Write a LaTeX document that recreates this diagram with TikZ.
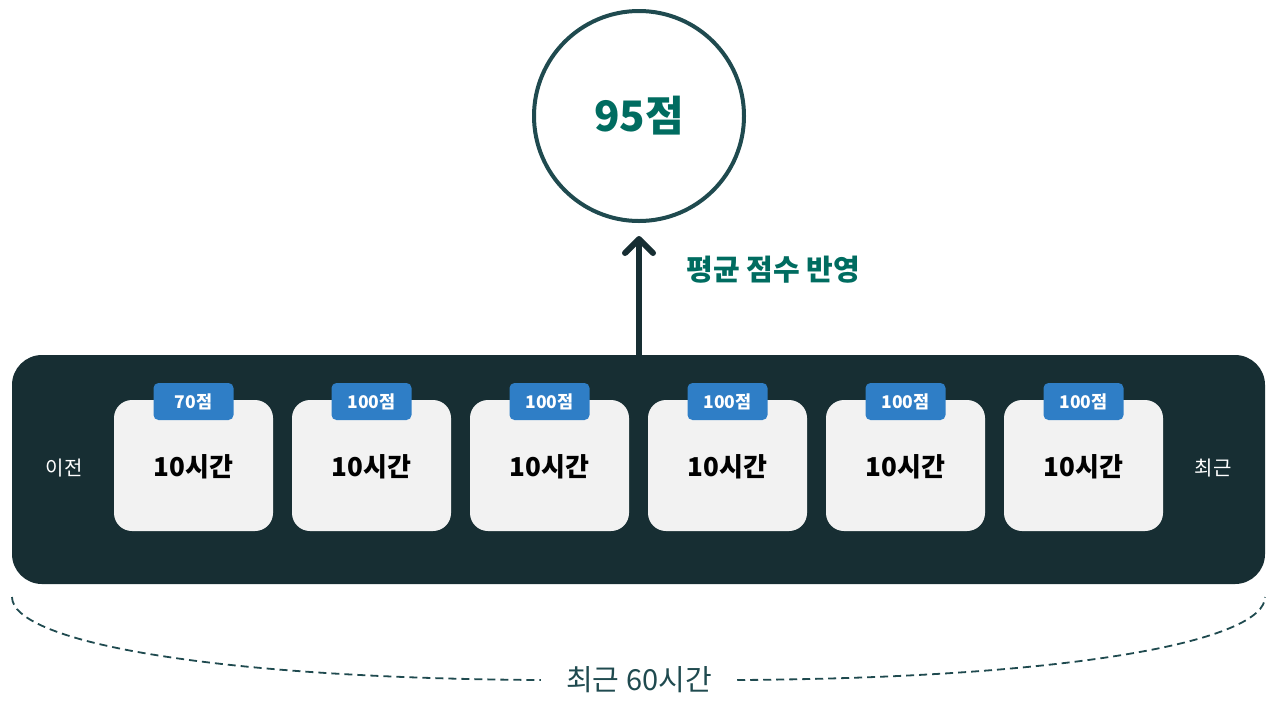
\documentclass[tikz,border=0pt]{standalone}
\usepackage{fontspec}
\setmainfont{Noto Sans CJK KR}
\usetikzlibrary{arrows.meta,calc}
\definecolor{panelc}{RGB}{23,46,51}
\definecolor{ringc}{RGB}{31,74,79}
\definecolor{tealc}{RGB}{0,108,96}
\definecolor{badgec}{RGB}{47,126,198}
\definecolor{boxc}{RGB}{242,242,242}
\tikzset{
  hourbox/.style={fill=boxc, rounded corners=18pt, minimum width=159pt, minimum height=131pt, inner sep=0pt},
  hourtext/.style={font=\fontsize{26}{30}\selectfont\bfseries, text=black},
  scorebadge/.style={fill=badgec, rounded corners=5pt, minimum width=80pt, minimum height=37pt, inner sep=0pt, text=white, font=\fontsize{17.5}{20}\selectfont\bfseries},
  sidetext/.style={text=white, font=\fontsize{20}{24}\selectfont},
  bracedash/.style={draw=ringc, line width=1.8pt, dash pattern=on 8pt off 5pt}
}
\begin{document}
\begin{tikzpicture}[x=1pt,y=-1pt]
\useasboundingbox (0,0) rectangle (1276,705);
% circle
\node[circle, draw=ringc, line width=4pt, fill=white, minimum size=210pt, inner sep=0pt,
  text=tealc, font=\fontsize{42}{48}\selectfont\bfseries] (score) at (639,116) {95점};
% panel
\node[fill=panelc, rounded corners=30pt, minimum width=1253pt, minimum height=229pt, inner sep=0pt] (panel) at (638.5,469.5) {};
% arrow
\draw[draw=panelc, line width=6pt, line cap=round, -{Straight Barb[length=14pt,width=28pt,line cap=round,line join=round]}, shorten >=13pt]
  (panel.north -| score.south) -- (score.south);
\node[anchor=west, text=tealc, font=\fontsize{29}{34}\selectfont\bfseries] (avg) at (683,270) {평균 점수 반영};
% side labels
\node[sidetext] (prev) at (64,468) {이전};
\node[sidetext] (recent) at (1213,468) {최근};
% hour boxes and badges
\foreach \i/\s in {1/70점,2/100점,3/100점,4/100점,5/100점,6/100점}{
  \pgfmathsetmacro{\cx}{193.5+178*(\i-1)}
  \node[hourbox] (box\i) at (\cx,465.5) {};
  \node[hourtext] (hrs\i) at (\cx,467) {10시간};
  \node[scorebadge] (badge\i) at (\cx,401.5) {\s};
}
% brace
\node[text=ringc, font=\fontsize{29}{34}\selectfont] (total) at (639,680) {최근 60시간};
\coordinate (bl) at (12,597);
\coordinate (br) at (1265,597);
\draw[bracedash] (bl) .. controls (12,640) and (200,678) .. ($(total.west)+(-22pt,0)$);
\draw[bracedash] ($(total.east)+(22pt,0)$) .. controls (1078,678) and (1265,640) .. (br);
\end{tikzpicture}
\end{document}
